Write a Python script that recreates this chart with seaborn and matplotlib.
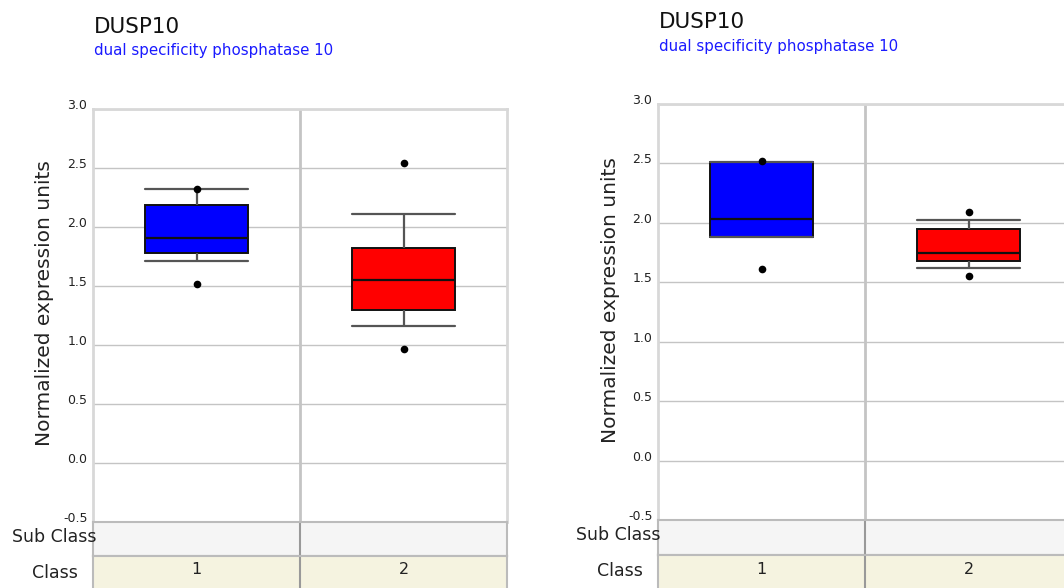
import seaborn as sns
import pandas as pd
import matplotlib.pyplot as plt

# box stats: lower whisker, q1, median, q3, upper whisker
classes = ["1", "2"]
box_colors = {"1": "#0000ff", "2": "#ff0000"}

left_lo = [1.71, 1.16]
left_q1 = [1.78, 1.30]
left_med = [1.91, 1.55]
left_q3 = [2.19, 1.82]
left_hi = [2.32, 2.11]
left_min = [1.52, 0.97]
left_max = [2.32, 2.54]

right_lo = [1.88, 1.62]
right_q1 = [1.88, 1.68]
right_med = [2.03, 1.75]
right_q3 = [2.51, 1.95]
right_hi = [2.51, 2.02]
right_min = [1.61, 1.55]
right_max = [2.52, 2.09]

yticks = [-0.5, 0.0, 0.5, 1.0, 1.5, 2.0, 2.5, 3.0]
gene = "DUSP10"
gene_name = "dual specificity phosphatase 10"

sns.set_style("white")
plt.rcParams['font.family'] = ['DejaVu Sans']

W, H = 1064, 588
fig = plt.figure(figsize=(W / 100, H / 100), dpi=100)

GRID = "#c4c4c4"


def panel(x0, top, bottom, sub_bottom, lo, q1, med, q3, hi, mn, mx):
    # main axes
    ax = fig.add_axes([x0 / W, (H - bottom) / H, 414 / W, (bottom - top) / H])
    rows = []
    for i, c in enumerate(classes):
        for v in (lo[i], q1[i], med[i], q3[i], hi[i]):
            rows.append({"Class": c, "value": v})
    df = pd.DataFrame(rows)
    dots = pd.DataFrame({"Class": classes + classes, "value": mn + mx})

    sns.boxplot(data=df, x="Class", y="value", hue="Class", order=classes,
                palette=box_colors, saturation=1, whis=(0, 100), width=0.5,
                showfliers=False, legend=False, ax=ax, capwidths=0.5,
                boxprops=dict(edgecolor="#111111", linewidth=1.4),
                medianprops=dict(color="#111111", linewidth=1.6),
                whiskerprops=dict(color="#555555", linewidth=1.6),
                capprops=dict(color="#555555", linewidth=1.6))
    sns.stripplot(data=dots, x="Class", y="value", order=classes, jitter=False,
                  color="black", size=5.5, ax=ax, zorder=5)

    ax.set_xlim(-0.5, 1.5)
    ax.set_ylim(-0.5, 3.0)
    ax.set_xticks([])
    ax.set_xlabel("")
    ax.set_ylabel("")
    ax.set_yticks(yticks)
    ax.set_yticklabels([f"{t:.1f}" for t in yticks], fontsize=9, color="#222222")
    for lbl in ax.get_yticklabels():
        lbl.set_va("baseline")
    ax.tick_params(axis="y", length=0, pad=4)
    ax.grid(axis="y", color=GRID, linewidth=1)
    ax.set_axisbelow(True)
    ax.axvline(0.5, color=GRID, linewidth=2, zorder=0)
    for s in ax.spines.values():
        s.set_color("#d8d8d8")
        s.set_linewidth(2)
    ax.spines["bottom"].set_visible(False)

    # sub class band
    sub = fig.add_axes([x0 / W, (H - sub_bottom) / H, 414 / W, (sub_bottom - bottom) / H])
    sub.set_facecolor("#f5f5f5")
    sub.set_xlim(-0.5, 1.5)
    sub.axvline(0.5, color="#999999", linewidth=1.5)
    sub.set_xticks([])
    sub.set_yticks([])
    for s in sub.spines.values():
        s.set_color("#bbbbbb")
        s.set_linewidth(1.5)

    # class band
    cls = fig.add_axes([x0 / W, -0.03, 414 / W, (H - sub_bottom) / H + 0.03])
    cls.set_facecolor("#f5f3e0")
    cls.set_xlim(-0.5, 1.5)
    cls.set_ylim(0, 1)
    cls.axvline(0.5, color="#999999", linewidth=1.5)
    cls.set_xticks([])
    cls.set_yticks([])
    for s in cls.spines.values():
        s.set_color("#bbbbbb")
        s.set_linewidth(1.5)
    for i, c in enumerate(classes):
        cls.text(i, 0.72, c, ha="center", va="center", fontsize=11.5, color="#222222")

    # titles and labels
    fig.text((x0 + 1) / W, 1 - (top - 82) / H, gene, fontsize=15.5, color="#111111",
             ha="left", va="center")
    fig.text((x0 + 1) / W, 1 - (top - 58) / H, gene_name, fontsize=10.8,
             color="#1a1aff", ha="left", va="center")
    fig.text((x0 - 48) / W, 1 - ((top + bottom) / 2 - 12) / H,
             "Normalized expression units", rotation=90, fontsize=14.5,
             color="#222222", ha="center", va="center")
    fig.text((x0 + 3) / W, 1 - (bottom + 15) / H, "Sub Class", fontsize=12.5,
             color="#222222", ha="right", va="center")
    fig.text((x0 - 15) / W, 1 - (bottom + 51) / H, "Class", fontsize=12.5,
             color="#222222", ha="right", va="center")
    return ax


panel(93, 109, 522, 556, left_lo, left_q1, left_med, left_q3, left_hi,
      left_min, left_max)
panel(658, 104, 520, 555, right_lo, right_q1, right_med, right_q3, right_hi,
      right_min, right_max)

fig.savefig("out.png", dpi=100)
